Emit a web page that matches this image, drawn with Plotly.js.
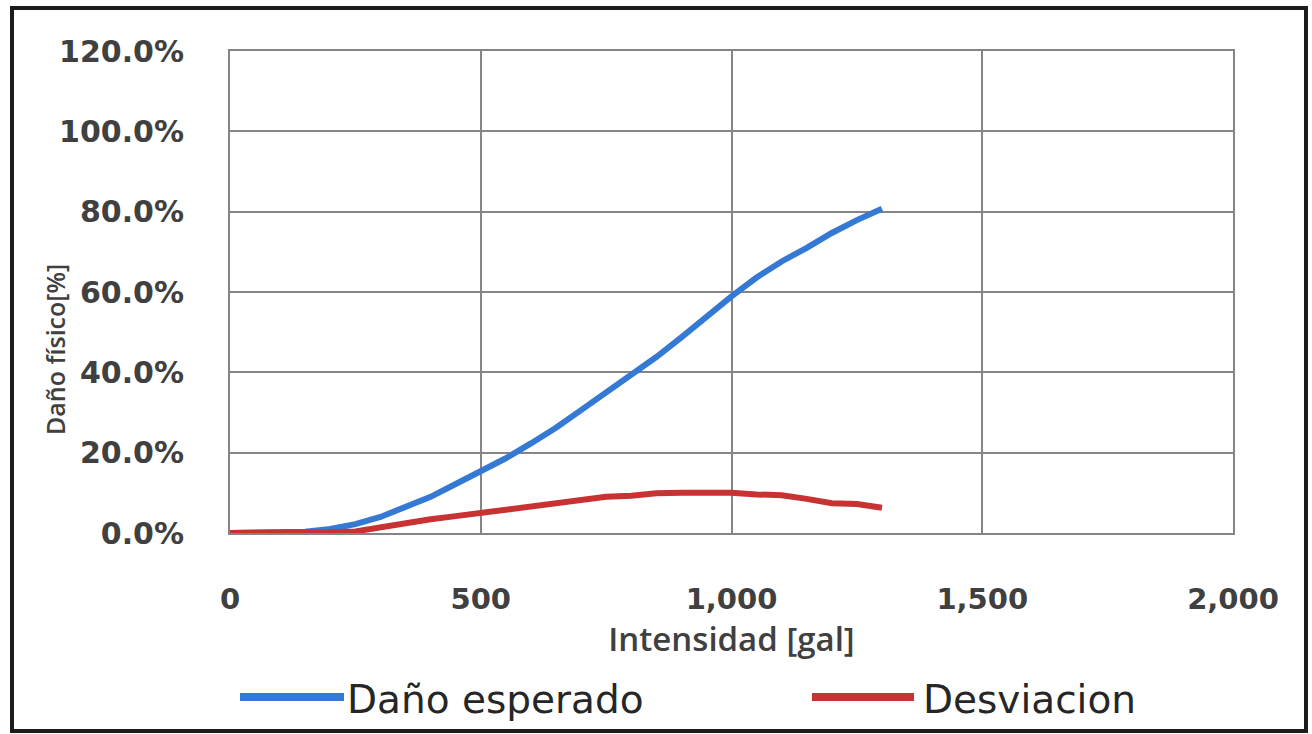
<!DOCTYPE html>
<html>
<head>
<meta charset="utf-8">
<script src="https://cdn.plot.ly/plotly-3.0.1.min.js"></script>
<style>
  html, body { margin: 0; padding: 0; background: #ffffff; }
  #chart { width: 1312px; height: 734px; }
</style>
</head>
<body>
<div id="chart"></div>
<script>
// Seismic intensity [gal] and the resulting physical damage curves
const intensidad = [0, 50, 100, 150, 200, 250, 300, 350, 400, 450, 500, 550, 600, 650,
                    700, 750, 800, 850, 900, 950, 1000, 1050, 1100, 1150, 1200, 1250, 1300];
const danoEsperado = [0, 0, 0, 0.3, 1.0, 2.2, 4.0, 6.5, 9.0, 12.2, 15.2, 18.6, 22.3, 26.2,
                      30.6, 35.0, 39.3, 43.8, 48.7, 53.9, 58.9, 63.6, 67.6, 71.0, 74.7, 77.9, 80.7];
const desviacion = [0, 0, 0, 0, 0.2, 0.4, 1.5, 2.6, 3.4, 4.2, 5.0, 5.8, 6.6, 7.4,
                    8.2, 9.0, 9.3, 9.9, 10.0, 10.0, 10.0, 9.6, 9.4, 8.5, 7.4, 7.2, 6.3];

const xTickVals = [0, 500, 1000, 1500, 2000];
const xTickText = ['0', '500', '1,000', '1,500', '2,000'];
const yTickVals = [0, 20, 40, 60, 80, 100, 120];
const yTickText = ['0.0%', '20.0%', '40.0%', '60.0%', '80.0%', '100.0%', '120.0%'];

const seriesNames = ['Daño esperado', 'Desviacion'];
const seriesColors = ['#3479d4', '#c83232'];

const GRID = '#858585';
const TXT = '#404040';

const traces = [
  {
    x: intensidad, y: danoEsperado, type: 'scatter', mode: 'lines',
    name: seriesNames[0], line: { color: seriesColors[0], width: 6 }
  },
  {
    x: intensidad, y: desviacion, type: 'scatter', mode: 'lines',
    name: seriesNames[1], line: { color: seriesColors[1], width: 6 }
  }
];

// Plot area occupies x 230..1233, y 51..533 of the page
const L = 230, R = 1233, T = 51, B = 533;
const px = v => (v - L) / (R - L);
const py = v => (B - v) / (B - T);

const legendY = py(699);

const layout = {
  width: 1312, height: 734,
  margin: { l: L, r: 1312 - R, t: T, b: 734 - B, pad: 0 },
  paper_bgcolor: '#ffffff', plot_bgcolor: '#ffffff',
  showlegend: false,
  xaxis: {
    range: [0, 2000], tickvals: xTickVals, ticktext: xTickText,
    showgrid: true, gridcolor: GRID, gridwidth: 2,
    showline: true, linecolor: GRID, linewidth: 2, mirror: true,
    zeroline: false, ticks: '', ticklabelstandoff: 39,
    tickfont: { family: 'DejaVu Sans', size: 29, color: TXT, weight: 'bold' },
    title: {
      text: 'Intensidad [gal]', standoff: 12,
      font: { family: 'Open Sans', size: 33, color: TXT, weight: 600 }
    },
    fixedrange: true
  },
  yaxis: {
    range: [0, 120], tickvals: yTickVals, ticktext: yTickText,
    showgrid: true, gridcolor: GRID, gridwidth: 2,
    showline: true, linecolor: GRID, linewidth: 2, mirror: true,
    zeroline: false, ticks: '', ticklabelstandoff: 38,
    tickfont: { family: 'DejaVu Sans', size: 30, color: TXT, weight: 'bold' },
    fixedrange: true
  },
  annotations: [
    {
      text: 'Daño físico[%]', xref: 'paper', yref: 'paper',
      x: px(55), y: py(350), textangle: -90, showarrow: false,
      xanchor: 'center', yanchor: 'middle',
      font: { family: 'Open Sans', size: 25, color: TXT, weight: 600 }
    },
    {
      text: seriesNames[0], xref: 'paper', yref: 'paper',
      x: px(345), y: legendY, showarrow: false, xanchor: 'left', yanchor: 'middle',
      font: { family: 'DejaVu Sans', size: 39, color: '#262626' }
    },
    {
      text: seriesNames[1], xref: 'paper', yref: 'paper',
      x: px(921), y: legendY, showarrow: false, xanchor: 'left', yanchor: 'middle',
      font: { family: 'DejaVu Sans', size: 39, color: '#262626' }
    }
  ],
  shapes: [
    // legend swatches
    {
      type: 'line', xref: 'paper', yref: 'paper',
      x0: px(240), x1: px(344), y0: py(697), y1: py(697),
      line: { color: seriesColors[0], width: 8 }
    },
    {
      type: 'line', xref: 'paper', yref: 'paper',
      x0: px(812), x1: px(914), y0: py(697), y1: py(697),
      line: { color: seriesColors[1], width: 8 }
    },
    // outer chart frame
    {
      type: 'rect', xref: 'paper', yref: 'paper',
      x0: px(12), x1: px(1306), y0: py(731), y1: py(8),
      line: { color: '#1c1c1c', width: 4 }
    }
  ]
};

Plotly.newPlot('chart', traces, layout, { displayModeBar: false, staticPlot: true });
</script>
</body>
</html>
